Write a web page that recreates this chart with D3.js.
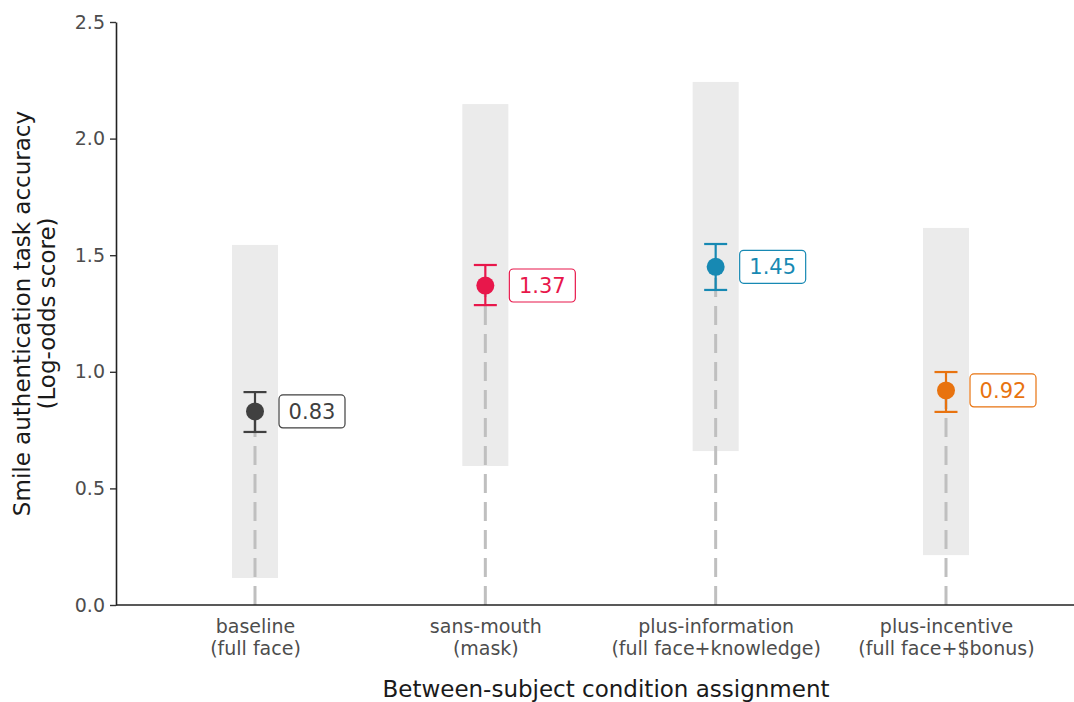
<!DOCTYPE html>
<html><head><meta charset="utf-8">
<script src="https://cdn.jsdelivr.net/npm/d3@7"></script>
<style>body{margin:0;background:#fff}svg{display:block}text{font-family:"DejaVu Sans",sans-serif}</style>
</head><body><svg id="c" width="1074" height="702"></svg>
<script>
const categories = ["baseline", "sans-mouth", "plus-information", "plus-incentive"];
const subLabels = ["(full face)", "(mask)", "(full face+knowledge)", "(full face+$bonus)"];
const values = [0.83, 1.37, 1.45, 0.92];
const ciLow = [0.742, 1.286, 1.351, 0.828];
const ciHigh = [0.913, 1.458, 1.548, 0.999];
const rangeLow = [0.116, 0.596, 0.66, 0.214];
const rangeHigh = [1.544, 2.148, 2.243, 1.617];
const colors = ["#404040", "#e8174b", "#1789b3", "#e8730f"];
const yTicks = [0, 0.5, 1.0, 1.5, 2.0, 2.5];

const svg = d3.select("#c");
const x = d3.scalePoint().domain(categories).range([255, 946]);
const y = d3.scaleLinear().domain([0, 2.5]).range([605, 22]);
const data = categories.map((c, i) => ({c, sub: subLabels[i], v: values[i], lo: ciLow[i], hi: ciHigh[i], rlo: rangeLow[i], rhi: rangeHigh[i], col: colors[i]}));

// grey ranges
svg.selectAll("rect.rng").data(data).join("rect").attr("class", "rng")
  .attr("x", d => x(d.c) - 23).attr("width", 46)
  .attr("y", d => y(d.rhi)).attr("height", d => y(d.rlo) - y(d.rhi))
  .attr("fill", "#ebebeb");

// dashed lines
svg.selectAll("line.dash").data(data).join("line").attr("class", "dash")
  .attr("x1", d => x(d.c)).attr("x2", d => x(d.c))
  .attr("y1", y(0)).attr("y2", d => y(d.v))
  .attr("stroke", "#bfbfbf").attr("stroke-width", 3).attr("stroke-dasharray", "19,9");

// axes
const yAxis = svg.append("g").attr("transform", "translate(116,0)")
  .call(d3.axisLeft(y).tickValues(yTicks).tickFormat(d3.format(".1f")).tickSize(6).tickSizeOuter(0));
yAxis.select(".domain").attr("stroke", "#222").attr("stroke-width", 1.6);
yAxis.selectAll(".tick line").attr("stroke", "#333").attr("stroke-width", 1.4);
yAxis.selectAll(".tick text").attr("fill", "#4d4d4d").attr("font-size", 19).attr("x", -11);

svg.append("line").attr("x1", 116).attr("x2", 1074).attr("y1", y(0)).attr("y2", y(0))
  .attr("stroke", "#222").attr("stroke-width", 1.6);

const xAxis = svg.append("g").attr("transform", `translate(0,${y(0)})`)
  .call(d3.axisBottom(x).tickSize(0).tickFormat(""));
xAxis.select(".domain").remove();
xAxis.selectAll(".tick").each(function(d, i) {
  const t = d3.select(this).append("text").attr("fill", "#4d4d4d").attr("font-size", 19).attr("text-anchor", "middle");
  t.append("tspan").attr("x", 0).attr("y", 28).text(categories[i]);
  t.append("tspan").attr("x", 0).attr("y", 50).text(subLabels[i]);
});

// error bars
const eb = svg.selectAll("g.eb").data(data).join("g").attr("class", "eb")
  .attr("stroke", d => d.col).attr("stroke-width", 2.2);
eb.append("line").attr("x1", d => x(d.c)).attr("x2", d => x(d.c)).attr("y1", d => y(d.lo)).attr("y2", d => y(d.hi));
eb.append("line").attr("x1", d => x(d.c) - 11.5).attr("x2", d => x(d.c) + 11.5).attr("y1", d => y(d.lo)).attr("y2", d => y(d.lo));
eb.append("line").attr("x1", d => x(d.c) - 11.5).attr("x2", d => x(d.c) + 11.5).attr("y1", d => y(d.hi)).attr("y2", d => y(d.hi));

// points
svg.selectAll("circle.pt").data(data).join("circle").attr("class", "pt")
  .attr("cx", d => x(d.c)).attr("cy", d => y(d.v)).attr("r", 9).attr("fill", d => d.col);

// labels
const lab = svg.selectAll("g.lab").data(data).join("g").attr("class", "lab")
  .attr("transform", d => `translate(${x(d.c) + 24},${y(d.v)})`);
lab.append("rect").attr("x", 0).attr("y", -16.5).attr("width", 66).attr("height", 33).attr("rx", 4)
  .attr("fill", "#fff").attr("stroke", d => d.col).attr("stroke-width", 1.2);
lab.append("text").attr("x", 33).attr("y", 0).attr("dy", "0.36em").attr("text-anchor", "middle")
  .attr("font-size", 21).attr("fill", d => d.col).text(d => d.v.toFixed(2));

// axis titles
svg.append("text").attr("x", 606).attr("y", 697).attr("text-anchor", "middle").attr("font-size", 23)
  .attr("fill", "#1a1a1a").text("Between-subject condition assignment");
const yt = svg.append("text").attr("transform", `translate(0,${(22 + 605) / 2}) rotate(-90)`)
  .attr("text-anchor", "middle").attr("font-size", 23).attr("fill", "#1a1a1a");
yt.append("tspan").attr("x", 0).attr("y", 30).text("Smile authentication task accuracy");
yt.append("tspan").attr("x", 0).attr("y", 55).text("(Log-odds score)");
</script></body></html>
